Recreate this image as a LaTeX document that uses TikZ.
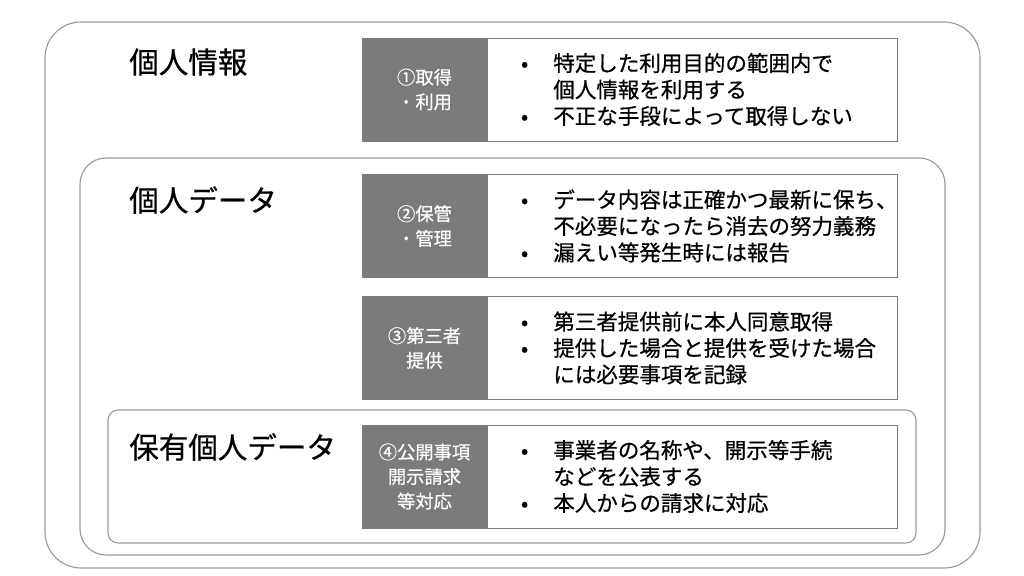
\documentclass[tikz,border=0pt]{standalone}
\usepackage{fontspec}
\setmainfont{Noto Sans CJK JP}[FakeBold=0.6]
\usetikzlibrary{positioning}
\definecolor{headgray}{HTML}{7B7B7B}
\definecolor{framegray}{HTML}{9A9A9A}
\newcommand{\itm}{\makebox[24pt][l]{\hspace{1pt}•}}
\newcommand{\cnt}{\hspace*{24pt}}

\begin{document}
\begin{tikzpicture}[
    x=0.025cm, y=-0.025cm,
    frame/.style={draw=framegray, line width=0.8pt},
    head/.style={draw=headgray, fill=headgray, text=white, minimum width=3.125cm, minimum height=2.575cm, inner sep=0pt, align=center, font=\fontsize{13}{17.5}\selectfont},
    body/.style={draw=headgray, fill=white, minimum height=2.575cm, text width=8.65cm, inner xsep=0.8cm, inner ysep=0pt, align=left, font=\fontsize{15.3}{18.8}\selectfont},
    title/.style={anchor=west, inner sep=0pt, font=\fontsize{21}{25}\selectfont}
]
    \useasboundingbox (0,0) rectangle (1024,576);

    % Frames
    \draw[frame, rounded corners=0.9cm] (45,22) rectangle (980,568);
    \draw[frame, rounded corners=0.65cm] (80,158) rectangle (945,555);
    \draw[frame, rounded corners=0.25cm] (108,410) rectangle (916,543);

    % Titles
    \node[title] (info) at (129,62) {個人情報};
    \node[title] (data) at (129,200) {個人データ};
    \node[title] (held) at (129,447) {保有個人データ};

    % Row 1
    \node[head] (h1) at (424.5,89.5) {①取得\\・利用};
    \node[body, right=0pt of h1] (b1) {\itm 特定した利用目的の範囲内で\\\cnt 個人情報を利用する\\\itm 不正な手段によって取得しない};

    % Row 2
    \node[head] (h2) at (424.5,226) {②保管\\・管理};
    \node[body, right=0pt of h2] (b2) {\itm データ内容は正確かつ最新に保ち、\\\cnt 不必要になったら消去の努力義務\\\itm 漏えい等発生時には報告};

    % Row 3
    \node[head] (h3) at (424.5,348) {③第三者\\提供};
    \node[body, right=0pt of h3] (b3) {\itm 第三者提供前に本人同意取得\\\itm 提供した場合と提供を受けた場合\\\cnt には必要事項を記録};

    % Row 4
    \node[head] (h4) at (424.5,476.5) {④公開事項\\開示請求\\等対応};
    \node[body, right=0pt of h4] (b4) {\itm 事業者の名称や、開示等手続\\\cnt などを公表する\\\itm 本人からの請求に対応};
\end{tikzpicture}
\end{document}
